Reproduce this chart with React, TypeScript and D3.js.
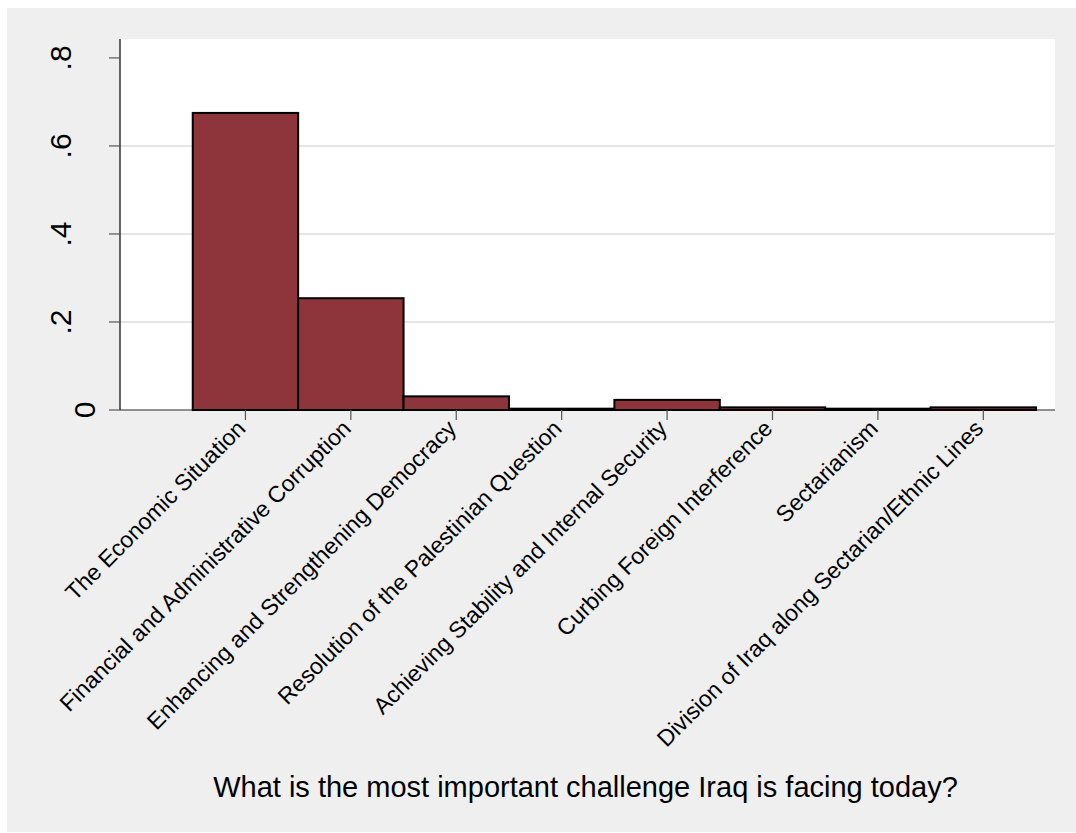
import React from "react";
import * as d3 from "d3";

const categories = [
  "The Economic Situation",
  "Financial and Administrative Corruption",
  "Enhancing and Strengthening Democracy",
  "Resolution of the Palestinian Question",
  "Achieving Stability and Internal Security",
  "Curbing Foreign Interference",
  "Sectarianism",
  "Division of Iraq along Sectarian/Ethnic Lines",
];
const shares = [0.675, 0.254, 0.031, 0.003, 0.023, 0.006, 0.003, 0.006];
const yTicks = [0, 0.2, 0.4, 0.6, 0.8];
const yTickLabels = ["0", ".2", ".4", ".6", ".8"];
const gridTicks = [0.2, 0.4, 0.6];
const xTitle = "What is the most important challenge Iraq is facing today?";

const W = 1076;
const H = 833;
const plotLeft = 120;
const plotRight = 1055;
const plotTop = 39;
const plotBottom = 410;
const FONT = "'Liberation Sans', Arial, Helvetica, sans-serif";

export default function App() {
  const x = d3.scaleLinear().domain([-1.19, 7.68]).range([plotLeft, plotRight]);
  const y = d3.scaleLinear().domain([0, 0.843]).range([plotBottom, plotTop]);
  const half = 0.5;

  return (
    <svg
      width={W}
      height={H}
      style={{ position: "absolute", left: 0, top: 0, display: "block" }}
    >
      <rect x={0} y={0} width={W} height={H} fill="#ffffff" />
      <rect x={7} y={8} width={W - 7} height={824} fill="#efefef" />
      <rect
        x={plotLeft}
        y={plotTop}
        width={plotRight - plotLeft}
        height={plotBottom - plotTop}
        fill="#ffffff"
      />
      {gridTicks.map((t) => (
        <line
          key={"g" + t}
          x1={plotLeft}
          x2={plotRight}
          y1={y(t)}
          y2={y(t)}
          stroke="#e5e5e5"
          strokeWidth={2}
        />
      ))}
      <line
        x1={plotLeft}
        x2={plotRight}
        y1={plotBottom}
        y2={plotBottom}
        stroke="#6e6e6e"
        strokeWidth={1.5}
      />
      {shares.map((v, i) => (
        <rect
          key={"b" + i}
          x={x(i - half)}
          y={y(v)}
          width={x(i + half) - x(i - half)}
          height={y(0) - y(v)}
          fill="#8d353b"
          stroke="#000000"
          strokeWidth={2}
        />
      ))}
      <line
        x1={plotLeft}
        x2={plotLeft}
        y1={plotTop}
        y2={plotBottom}
        stroke="#000000"
        strokeWidth={1.2}
      />
      {yTicks.map((t, i) => (
        <g key={"yt" + i}>
          <line
            x1={plotLeft - 11}
            x2={plotLeft}
            y1={y(t)}
            y2={y(t)}
            stroke="#555555"
            strokeWidth={1.2}
          />
          <text
            transform={`translate(${plotLeft - 24 * yTickLabels[i].length - 1},${y(t)}) rotate(-90)`}
            textAnchor="middle"
            fontFamily={FONT}
            fontSize={30}
            fill="#000"
          >
            {yTickLabels[i]}
          </text>
        </g>
      ))}
      {categories.map((c, i) => (
        <g key={"xt" + i}>
          <line
            x1={x(i)}
            x2={x(i)}
            y1={plotBottom}
            y2={plotBottom + 10}
            stroke="#555555"
            strokeWidth={1.2}
          />
          <text
            transform={`translate(${x(i)},${plotBottom + 10}) rotate(-45)`}
            x={-6}
            textAnchor="end"
            dominantBaseline="central"
            fontFamily={FONT}
            fontSize={23}
            fill="#000"
          >
            {c}
          </text>
        </g>
      ))}
      <text
        x={(plotLeft + plotRight) / 2 - 2}
        y={797}
        textAnchor="middle"
        fontFamily={FONT}
        fontSize={29}
        fill="#000"
      >
        {xTitle}
      </text>
    </svg>
  );
}
